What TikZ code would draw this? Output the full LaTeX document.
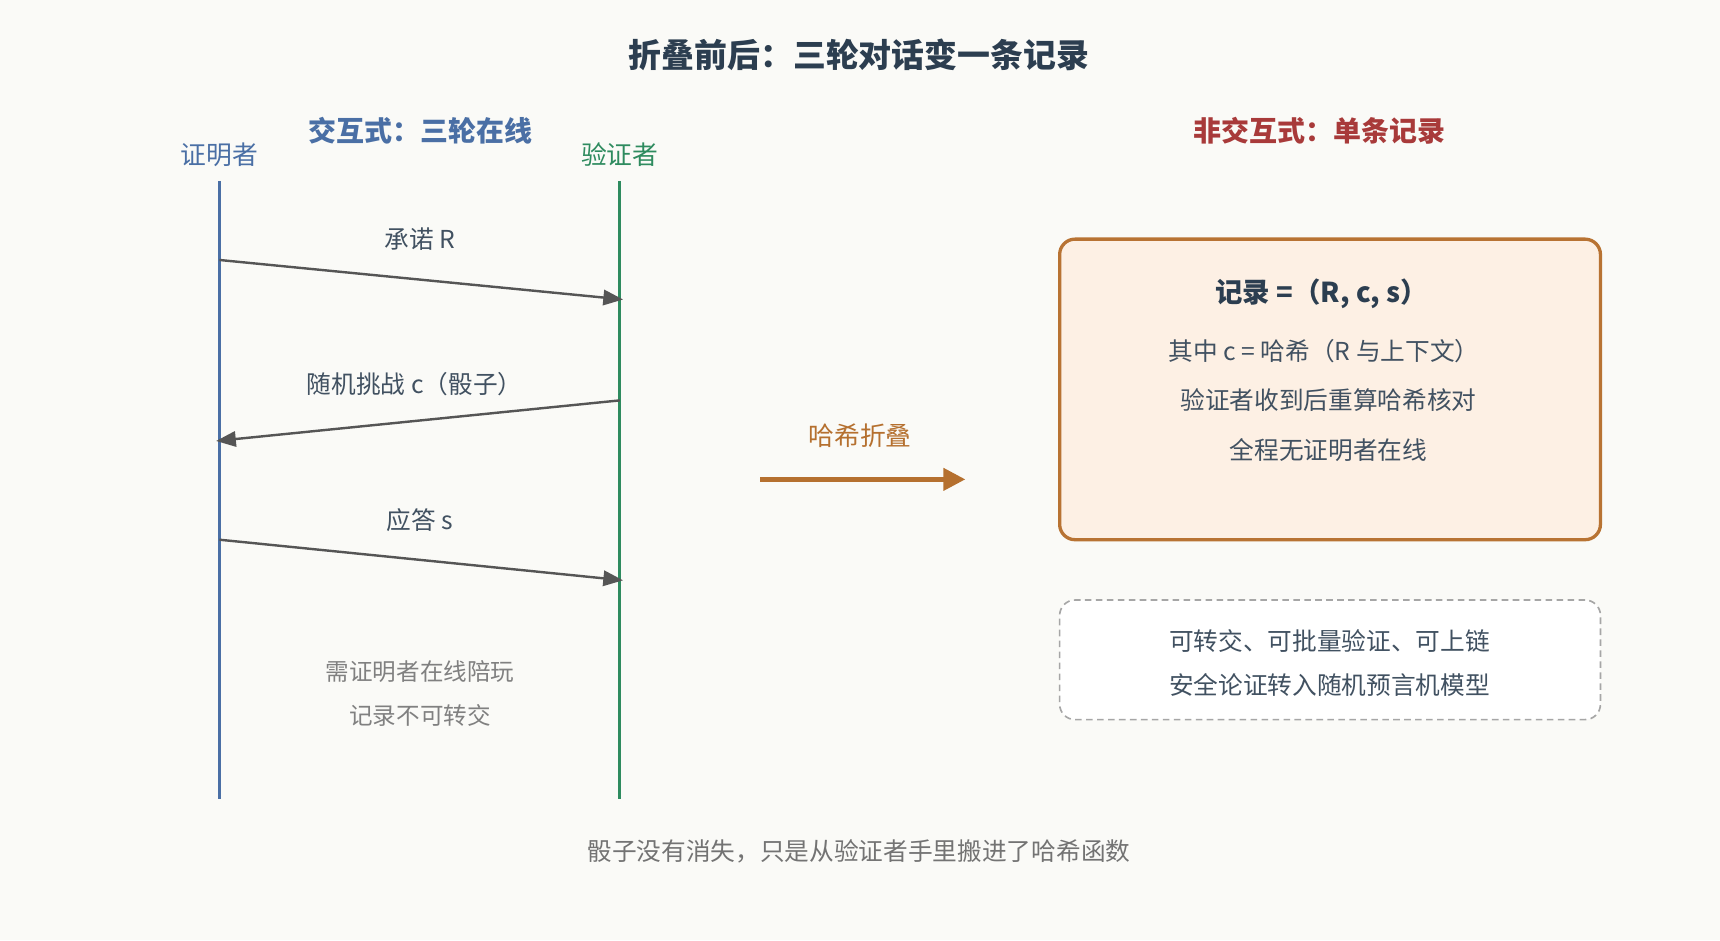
\documentclass[tikz,border=0pt]{standalone}
\usepackage{fontspec}
\setmainfont{Noto Sans CJK SC}
\usetikzlibrary{arrows.meta}
\definecolor{bg}{HTML}{FAFAF7}
\definecolor{dark}{HTML}{2C3E50}
\definecolor{pblue}{HTML}{4A6FA5}
\definecolor{vgreen}{HTML}{2E8B5F}
\definecolor{msg}{HTML}{555555}
\definecolor{org}{HTML}{B5702F}
\definecolor{red}{HTML}{A83A3A}
\definecolor{boxfill}{HTML}{FDF0E4}
\definecolor{boxline}{HTML}{B87333}
\tikzset{
 fs/.style={font=\fontsize{#1}{#1}\selectfont},
 txt/.style={fs=22.5,text=dark!90},
 note/.style={fs=21.5,text=gray},
 msgarrow/.style={draw=msg,line width=2.2pt,-{Triangle[length=18pt,width=14pt]}},
}
\begin{document}
\begin{tikzpicture}[x=1pt,y=-1pt]
\fill[bg] (0,0) rectangle (1568,857);
\useasboundingbox (0,0) rectangle (1568,857);
\node[font=\bfseries\fontsize{30}{30}\selectfont,text=dark] (title) at (783,50) {折叠前后：三轮对话变一条记录};
\node[font=\bfseries\fontsize{25.5}{25.5}\selectfont,text=pblue] (lt) at (383,119) {交互式：三轮在线};
\node[fs=23.5,text=pblue] (p) at (200,141) {证明者};
\node[fs=23.5,text=vgreen] (v) at (565,141) {验证者};
\coordinate (pt) at (200,165); \coordinate (pb) at (200,728);
\coordinate (vt) at (565,165); \coordinate (vb) at (565,728);
\draw[pblue,line width=3pt] (pt) -- (pb);
\draw[vgreen,line width=3pt] (vt) -- (vb);
\coordinate (a1) at (200,237); \coordinate (b1) at (568,273);
\coordinate (a2) at (565,365); \coordinate (b2) at (197,402);
\coordinate (a3) at (200,492); \coordinate (b3) at (568,529);
\draw[msgarrow] (a1) -- (b1);
\draw[msgarrow] (a2) -- (b2);
\draw[msgarrow] (a3) -- (b3);
\node[txt] (l1) at (383,218) {承诺 R};
\node[txt] (l2) at (378,350) {随机挑战 c（骰子）};
\node[txt] (l3) at (383,474) {应答 s};
\node[note] (n1) at (383,612) {需证明者在线陪玩};
\node[note] (n2) at (383,652) {记录不可转交};
\node[fs=23.5,text=org] (hl) at (784,397) {哈希折叠};
\coordinate (hs) at (693,437); \coordinate (he) at (880,437);
\draw[org,line width=4pt,-{Triangle[length=20pt,width=20pt]}] (hs) -- (he);
\node[font=\bfseries\fontsize{25.5}{25.5}\selectfont,text=red] (rt) at (1203,119) {非交互式：单条记录};
\node[draw=boxline,fill=boxfill,line width=3pt,rounded corners=14pt,minimum width=493pt,minimum height=274pt] (box) at (1212.5,355) {};
\node[font=\bfseries\fontsize{25}{25}\selectfont,text=dark] (r0) at (1205,268) {记录 =（R, c, s）};
\node[txt] (r1) at (1207,320) {其中 c = 哈希（R 与上下文）};
\node[txt] (r2) at (1211,365) {验证者收到后重算哈希核对};
\node[txt] (r3) at (1211,410) {全程无证明者在线};
\node[draw=gray!70,dashed,dash pattern=on 6pt off 4pt,fill=white,line width=1.5pt,rounded corners=14pt,minimum width=493pt,minimum height=109pt] (dbox) at (1212.5,601.5) {};
\node[txt] (d1) at (1212,584) {可转交、可批量验证、可上链};
\node[txt] (d2) at (1212,624) {安全论证转入随机预言机模型};
\node[fs=22.5,text=gray!90!black] (foot) at (783,776) {骰子没有消失，只是从验证者手里搬进了哈希函数};
\end{tikzpicture}
\end{document}
